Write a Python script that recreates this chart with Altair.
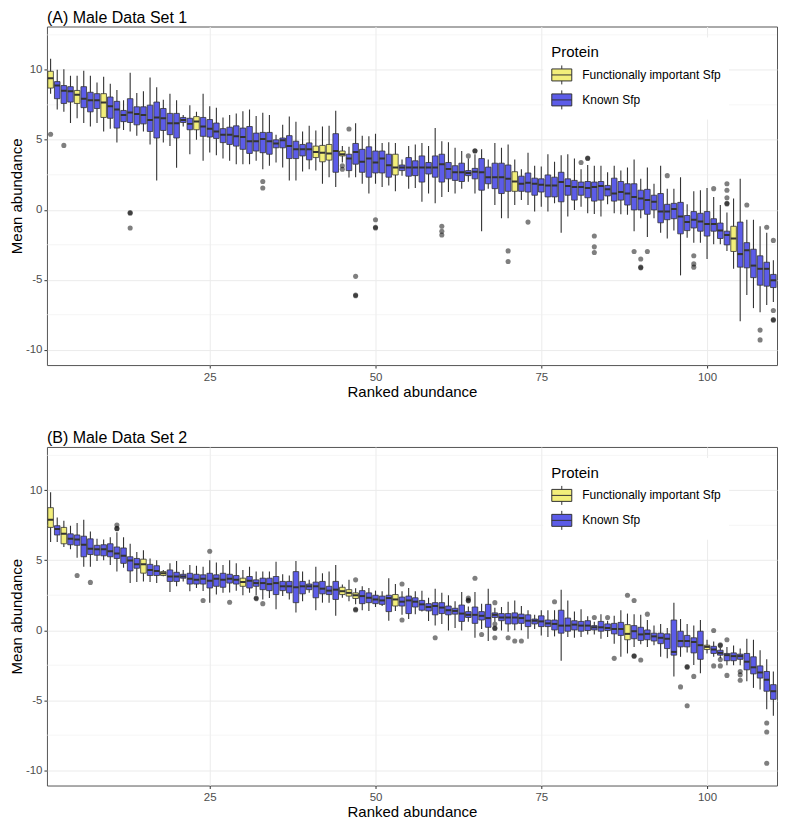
import altair as alt
import pandas as pd

FONT = "Liberation Sans"
YELLOW = "#F2EE7A"
BLUE = "#5C5CE8"
DARK = "#333333"
CATS = ["Functionally important Sfp", "Known Sfp"]
RANKS = list(range(1, 111))
MINOR_Y = [-7.5, -2.5, 2.5, 7.5, 12.5]

# ---------------- Panel A : Male Data Set 1 ----------------
a_lo = [8.3, 7.17, 7.0, 6.2, 6.54, 6.2, 5.96, 6.2, 5.6, 5.8,
        4.8, 5.7, 5.6, 5.3, 5.6, 4.67, 2.1, 4.8, 4.55, 3.0,
        5.96, 3.97, 5.0, 3.5, 4.1, 3.9, 3.66, 3.5, 3.26, 3.26,
        3.26, 3.5, 2.9, 3.15, 3.38, 3.03, 2.1, 2.1, 2.73, 2.9,
        2.8, 1.86, 2.33, 1.63, 3.38, 2.3, 2.33, 1.86, 1.16, 1.86,
        1.63, 1.74, 1.32, 2.44, 1.51, 1.56, 0.57, 1.16, 0.46, 0.92,
        1.27, 1.16, 1.51, 2.0, 1.16, -1.53, 1.51, 0.34, -0.6, -0.6,
        0.34, 0.69, 0.34, -0.13, 0.22, -0.13, 0.46, -1.65, -0.48, -0.01,
        0.22, -0.25, -0.3, -0.48, 0.39, -0.25, -0.32, -0.36, -1.53, -0.6,
        -1.95, -0.6, -1.65, -2.05, -1.49, -4.69, -2.0, -2.35, -2.35, -3.52,
        -2.47, -2.47, -2.94, -4.22, -7.97, -6.09, -7.03, -7.33, -6.8, -6.6]
a_q1 = [8.7, 7.94, 7.6, 7.7, 7.6, 7.3, 7.0, 7.24, 6.6, 6.54,
        5.84, 6.3, 6.24, 6.07, 6.14, 5.6, 5.13, 5.67, 5.37, 5.13,
        6.24, 5.72, 5.72, 5.25, 5.2, 5.1, 4.8, 4.67, 4.55, 4.32,
        4.03, 4.2, 4.08, 3.97, 4.43, 4.43, 3.66, 3.66, 3.85, 3.57,
        3.73, 3.43, 3.55, 2.68, 3.85, 2.8, 3.26, 2.68, 2.33, 2.63,
        2.63, 2.33, 2.49, 2.8, 2.4, 2.44, 1.98, 2.56, 2.33, 1.98,
        2.21, 2.1, 2.02, 2.44, 2.21, 1.4, 1.86, 1.51, 1.16, 1.32,
        1.32, 1.32, 1.27, 1.04, 1.27, 0.92, 0.92, 0.57, 1.04, 0.69,
        1.04, 0.86, 0.62, 0.69, 0.99, 0.62, 0.69, 0.34, -0.01, -0.01,
        -0.32, -0.01, -0.93, -0.71, -0.64, -1.72, -1.49, -1.3, -1.53, -1.88,
        -1.53, -2.05, -2.51, -2.98, -4.1, -4.15, -4.85, -5.39, -5.46, -5.56]
a_med = [9.4, 8.88, 8.5, 8.48, 8.22, 7.94, 7.83, 7.83, 7.66, 7.4,
         7.17, 6.77, 6.96, 6.84, 6.77, 6.42, 6.6, 6.54, 6.19, 6.19,
         6.42, 6.14, 6.31, 5.95, 5.8, 5.6, 5.37, 5.37, 5.25, 5.2,
         4.9, 4.9, 5.06, 4.9, 4.74, 4.97, 4.55, 4.32, 4.32, 4.32,
         4.13, 4.08, 4.03, 4.2, 3.97, 3.66, 4.13, 3.43, 3.66, 3.38,
         3.66, 3.19, 3.03, 3.03, 3.03, 3.03, 3.03, 3.03, 3.03, 3.26,
         2.91, 2.68, 2.68, 2.63, 2.72, 2.68, 2.33, 2.33, 2.33, 2.21,
         2.02, 1.86, 1.93, 1.86, 1.79, 1.74, 1.74, 1.98, 1.7, 1.63,
         1.63, 1.56, 1.63, 1.7, 1.46, 1.16, 1.27, 1.16, 0.92, 0.81,
         0.69, 0.57, -0.13, -0.13, 0.06, -0.48, -0.88, -0.71, -0.83, -1.02,
         -1.02, -1.49, -1.81, -2.05, -3.17, -2.89, -3.99, -4.22, -4.22, -5.04]
a_q3 = [9.9, 9.16, 8.88, 8.8, 8.53, 8.8, 8.4, 8.3, 8.3, 8.06,
        7.75, 7.1, 7.94, 7.36, 7.36, 7.48, 7.7, 7.24, 6.89, 6.89,
        6.6, 6.54, 6.66, 6.6, 6.45, 6.2, 5.8, 5.9, 6.0, 5.84,
        5.95, 5.48, 5.53, 5.53, 5.0, 5.13, 5.3, 4.9, 4.67, 4.78,
        4.55, 4.6, 4.67, 5.44, 4.2, 3.97, 4.74, 4.32, 4.5, 4.2,
        4.2, 3.97, 3.97, 3.2, 3.73, 3.5, 3.85, 3.38, 3.85, 3.97,
        3.38, 3.15, 3.33, 2.8, 2.96, 3.66, 3.05, 3.33, 3.33, 3.2,
        2.72, 2.4, 2.63, 2.26, 2.21, 2.49, 2.33, 2.68, 2.21, 2.1,
        1.98, 2.02, 1.98, 2.02, 1.74, 2.26, 2.02, 1.86, 1.86, 1.4,
        1.46, 1.04, 1.16, 0.39, 0.46, 0.53, -0.41, -0.13, -0.25, -0.13,
        -0.64, -0.95, -1.53, -1.18, -0.88, -2.35, -2.82, -3.29, -3.75, -4.62]
a_hi = [10.8, 10.0, 10.05, 9.58, 9.58, 9.93, 9.58, 9.1, 9.5, 9.0,
        8.57, 7.83, 9.8, 8.34, 8.48, 9.46, 8.76, 7.87, 8.3, 7.83,
        6.77, 7.48, 7.0, 8.3, 7.4, 7.3, 6.6, 6.77, 6.89, 7.05,
        7.17, 6.7, 6.94, 6.77, 5.37, 6.07, 6.66, 6.3, 5.6, 6.0,
        5.67, 5.95, 6.0, 7.07, 4.55, 4.5, 6.19, 5.3, 5.25, 5.44,
        4.78, 4.83, 4.78, 3.6, 4.55, 4.67, 4.78, 4.55, 5.84, 4.9,
        4.83, 4.43, 4.2, 3.66, 3.97, 4.32, 3.6, 4.78, 4.43, 4.67,
        3.6, 2.9, 4.08, 3.15, 3.1, 3.97, 3.43, 3.9, 3.97, 3.66,
        2.9, 3.2, 3.15, 3.15, 2.68, 3.15, 2.8, 3.03, 3.6, 2.21,
        3.03, 1.86, 3.15, 1.51, 1.51, 2.33, 0.39, 1.32, 1.4, 1.56,
        0.92, 0.34, -0.2, 0.81, 2.21, -0.71, -0.71, -1.18, -1.65, -3.6]
a_func = [1, 5, 9, 23, 41, 42, 43, 45, 53, 71, 104]
a_out_rank = [1, 3, 13, 13, 13, 33, 33, 45, 45, 46, 47, 47, 47, 50, 50, 50,
              60, 60, 60, 64, 65, 65, 70, 70, 73, 81, 82, 82, 83, 83, 83,
              89, 90, 90, 90, 91, 94, 98, 98, 98, 101, 103, 103, 103, 103, 103,
              106, 108, 108, 109, 110, 110, 110, 110]
a_out_val = [5.4, 4.6, -0.2, -0.25, -1.3, 2.02, 1.56, 3.15, 2.9, 5.77, -4.76, -6.1, -6.15,
             -0.71, -1.25, -1.3, -1.18, -1.53, -1.8, 3.85, 4.2, 4.22, -2.94, -3.7, -0.88,
             3.38, 3.66, 3.7, -1.88, -2.65, -3.05, -2.98, -3.52, -4.1, -4.15, -2.98, 2.44,
             -3.29, -3.87, -4.1, 1.51, 1.86, 1.4, 0.86, 0.46, 0.42, 0.34, -8.6, -9.3, -1.25,
             -2.19, -7.2, -7.85, -7.9]

# ---------------- Panel B : Male Data Set 2 ----------------
b_lo = [6.3, 6.3, 5.95, 5.78, 5.18, 4.54, 4.54, 4.94, 5.01, 4.66,
        4.19, 4.47, 3.37, 3.44, 3.49, 3.44, 3.37, 3.85, 2.74, 3.14,
        3.49, 2.79, 3.02, 2.8, 1.97, 2.55, 2.67, 2.7, 2.83, 2.5,
        2.67, 2.5, 2.2, 2.3, 1.5, 2.44, 2.2, 1.26, 2.08, 2.67,
        1.43, 1.97, 1.97, 1.03, 2.32, 2.08, 1.85, 1.43, 1.38, 1.66,
        1.73, 0.68, 1.38, 1.1, 0.8, 1.15, 1.33, 0.66, 0.34, 0.45,
        -0.02, 0.16, -0.02, 0.6, -0.54, 0.09, -0.77, 0.6, -0.02, -0.1,
        0.0, 0.0, -0.61, 0.09, -0.37, -0.49, -0.44, -2.18, -0.49, -0.54,
        -0.49, -0.3, -0.3, -0.61, -0.49, -0.96, -1.9, -1.66, -1.19, -1.0,
        -1.19, -1.07, -1.9, -2.01, -3.3, -1.9, -1.6, -2.48, -3.07, -1.66,
        -1.9, -2.0, -2.5, -2.5, -2.5, -3.65, -4.12, -4.24, -5.64, -6.11]
b_q1 = [7.35, 6.81, 6.18, 6.11, 6.07, 5.25, 5.41, 5.36, 5.32, 5.25,
        5.13, 4.78, 4.24, 4.43, 4.08, 3.91, 3.91, 3.91, 3.49, 3.49,
        3.72, 3.3, 3.3, 3.3, 3.02, 3.14, 3.07, 3.37, 3.3, 3.14,
        3.02, 3.14, 2.9, 2.83, 2.55, 2.83, 2.67, 1.97, 2.6, 2.9,
        2.32, 2.6, 2.55, 2.2, 2.55, 2.44, 2.27, 1.9, 1.97, 1.9,
        1.85, 1.33, 1.73, 1.73, 1.19, 1.66, 1.43, 1.38, 1.1, 1.19,
        1.1, 1.15, 0.63, 0.91, 0.49, 0.73, 0.21, 0.91, 0.68, 0.45,
        0.45, 0.49, 0.26, 0.45, 0.26, 0.26, 0.02, -0.21, -0.07, 0.02,
        -0.07, -0.02, 0.02, -0.07, -0.02, -0.26, -0.37, -0.68, -0.61, -0.73,
        -0.68, -0.77, -0.96, -1.31, -1.78, -1.19, -1.19, -1.62, -2.08, -1.38,
        -1.66, -1.78, -2.18, -2.18, -2.08, -2.83, -3.12, -3.42, -4.36, -4.94]
b_med = [7.89, 7.24, 6.89, 6.53, 6.49, 6.11, 5.83, 5.78, 5.78, 5.64,
         5.48, 5.32, 4.99, 4.71, 4.71, 4.31, 4.24, 4.07, 3.84, 3.84,
         3.84, 3.68, 3.6, 3.68, 3.54, 3.68, 3.6, 3.68, 3.6, 3.44,
         3.54, 3.37, 3.37, 3.3, 3.37, 3.14, 3.14, 3.07, 3.14, 3.14,
         3.14, 2.97, 2.83, 2.9, 2.79, 2.67, 2.5, 2.44, 2.32, 2.2,
         2.13, 2.3, 2.2, 2.04, 2.13, 2.04, 1.85, 1.66, 1.73, 1.62,
         1.43, 1.38, 1.19, 1.1, 1.1, 1.03, 0.87, 1.1, 0.91, 0.91,
         0.91, 0.87, 0.68, 0.68, 0.63, 0.49, 0.45, 0.33, 0.33, 0.4,
         0.33, 0.33, 0.21, 0.21, 0.16, 0.09, 0.09, -0.26, -0.07, -0.3,
         -0.26, -0.44, -0.54, -0.61, -1.55, -0.77, -0.77, -0.84, -1.07, -1.19,
         -1.38, -1.62, -1.78, -1.85, -1.85, -2.25, -2.65, -3.02, -3.54, -4.36]
b_q3 = [8.76, 7.47, 7.35, 6.89, 6.81, 6.72, 6.53, 6.07, 6.11, 6.18,
        5.95, 5.88, 5.25, 5.13, 5.08, 4.71, 4.61, 4.19, 4.31, 4.14,
        4.0, 4.07, 4.0, 3.96, 4.07, 3.96, 4.07, 4.0, 3.91, 3.72,
        3.84, 3.6, 3.72, 3.72, 3.84, 3.49, 3.49, 4.19, 3.49, 3.3,
        3.44, 3.49, 3.14, 3.49, 3.07, 2.9, 2.67, 2.83, 2.67, 2.5,
        2.44, 2.5, 2.55, 2.37, 2.44, 2.32, 2.13, 1.9, 1.97, 1.97,
        1.73, 1.57, 1.8, 1.33, 1.66, 1.33, 1.85, 1.24, 1.19, 1.19,
        1.24, 1.15, 1.1, 0.8, 1.03, 0.73, 0.73, 1.43, 0.87, 0.68,
        0.63, 0.68, 0.33, 0.63, 0.45, 0.49, 0.56, 0.4, 0.33, 0.21,
        0.02, -0.21, -0.21, -0.26, 0.73, -0.07, -0.37, -0.54, -0.07, -1.07,
        -1.15, -1.43, -1.66, -1.62, -1.71, -1.66, -1.9, -2.55, -2.95, -3.89]
b_hi = [9.86, 8.06, 7.82, 7.47, 7.66, 7.89, 7.05, 6.53, 6.49, 6.65,
        7.0, 6.65, 6.18, 5.6, 5.71, 5.13, 5.01, 4.31, 4.78, 4.94,
        4.31, 4.66, 4.61, 4.54, 5.0, 4.85, 4.66, 5.01, 4.78, 4.31,
        4.54, 4.19, 4.19, 4.19, 4.9, 4.0, 3.91, 4.94, 4.19, 3.6,
        4.54, 4.07, 4.19, 4.66, 3.26, 3.6, 3.0, 3.14, 3.02, 2.83,
        2.79, 3.72, 3.3, 2.79, 3.02, 2.79, 2.83, 2.32, 2.97, 2.67,
        2.5, 2.08, 2.74, 1.7, 2.74, 1.9, 2.97, 1.6, 1.66, 2.04,
        2.13, 1.73, 1.43, 1.1, 1.43, 1.43, 1.43, 2.9, 2.13, 1.33,
        1.5, 1.0, 0.6, 1.15, 0.68, 1.03, 1.43, 1.19, 1.15, 1.1,
        0.73, 0.33, 0.45, 0.16, 1.97, 0.8, 0.45, 0.33, 0.73, -0.68,
        -0.8, -1.25, -1.2, -1.1, -1.3, -0.61, -0.68, -1.43, -2.08, -2.95]
b_func = [1, 3, 15, 18, 30, 45, 46, 47, 53, 88, 100]
b_out_rank = [5, 7, 11, 11, 11, 24, 25, 28, 32, 32, 33, 47, 47, 47, 54, 54, 59,
              64, 64, 64, 65, 66, 68, 68, 68, 68, 68, 70, 71, 72, 77, 83, 85, 86,
              88, 89, 89, 89, 90, 91, 96, 97, 97, 97, 98, 101, 101, 102, 102, 102, 102,
              103, 103, 105, 105, 105, 109, 109, 109]
b_out_val = [3.91, 3.42, 7.52, 7.28, 7.25, 2.13, 5.64, 2.0, 2.3, 2.25, 1.9, 3.6, 1.5, 1.45,
             3.3, 0.73, -0.54, 2.3, 2.15, 2.1, 3.72, -0.3, 1.97, 0.44, 0.16, 0.12, -0.54,
             -0.54, -0.77, -0.77, 2.04, 0.91, 0.91, -2.01, 2.5, 2.13, -1.83, -1.86, -2.13,
             1.15, -4.05, -2.6, -2.65, -5.4, -3.3, -0.02, -2.55, -1.05, -1.1, -2.1, -2.55,
             -0.68, -3.23, -2.95, -3.19, -3.58, -6.63, -7.28, -9.51]

GLYPH = "M-1,-0.6H1V0.6H-1Z M-1,0H1 M0,-0.6V-0.95 M0,0.6V0.95"
PLOT_W = 731
PLOT_H = 339


def panel(title, lo, q1, med, q3, hi, func, o_rank, o_val):
    df = pd.DataFrame({"rank": RANKS, "lo": lo, "q1": q1, "med": med, "q3": q3, "hi": hi})
    df["Protein"] = [CATS[0] if r in func else CATS[1] for r in RANKS]
    out = pd.DataFrame({"rank": o_rank, "val": o_val})
    minor = pd.DataFrame({"m": MINOR_Y})

    xs = alt.Scale(domain=[0.45, 110.55], nice=False, zero=False)
    ys = alt.Scale(domain=[-11.1, 13.1], nice=False, zero=False)
    xax = alt.Axis(values=[25, 50, 75, 100], title="Ranked abundance", labelExpr="datum.value + ''")
    yax = alt.Axis(values=[-10, -5, 0, 5, 10], title="Mean abundance", labelExpr="datum.value + ''")

    grid_minor = alt.Chart(minor).mark_rule(color="#EFEFEF", strokeWidth=0.6).encode(
        y=alt.Y("m:Q", scale=ys, axis=yax)
    )
    base = alt.Chart(df).transform_calculate(
        xl="datum.rank - 0.42", xr="datum.rank + 0.42"
    )
    whisk = base.mark_rule(color=DARK, strokeWidth=1.1, clip=True).encode(
        x=alt.X("rank:Q", scale=xs, axis=xax),
        y=alt.Y("lo:Q", scale=ys, axis=yax),
        y2="hi:Q",
    )
    box = base.mark_bar(stroke=DARK, strokeWidth=0.8, clip=True, opacity=1).encode(
        x=alt.X("xl:Q", scale=xs, axis=xax),
        x2="xr:Q",
        y=alt.Y("q1:Q", scale=ys, axis=yax),
        y2="q3:Q",
        fill=alt.Fill(
            "Protein:N",
            scale=alt.Scale(domain=CATS, range=[YELLOW, BLUE]),
            legend=alt.Legend(
                title="Protein", orient="none", legendX=497, legendY=11,
                symbolType=GLYPH, symbolSize=400, symbolStrokeColor=DARK,
                symbolStrokeWidth=1, symbolOpacity=1, fillColor="white",
                padding=8, rowPadding=2, titlePadding=4, labelOffset=10,
                titleFont=FONT, titleFontSize=15, titleFontWeight="normal",
                titleColor="black", labelFont=FONT, labelFontSize=12,
                labelColor="black",
            ),
        ),
    )
    mid = base.mark_rule(color=DARK, strokeWidth=2, clip=True).encode(
        x=alt.X("xl:Q", scale=xs, axis=xax),
        x2="xr:Q",
        y=alt.Y("med:Q", scale=ys, axis=yax),
    )
    pts = alt.Chart(out).mark_circle(color="black", opacity=0.5, size=26, clip=True).encode(
        x=alt.X("rank:Q", scale=xs, axis=xax),
        y=alt.Y("val:Q", scale=ys, axis=yax),
    )
    return alt.layer(grid_minor, whisk, box, mid, pts).properties(
        width=PLOT_W, height=PLOT_H,
        title=alt.TitleParams(title, anchor="start", frame="group", fontSize=16,
                              fontWeight="normal", font=FONT, color="black", offset=1),
    )


pA = panel("(A) Male Data Set 1", a_lo, a_q1, a_med, a_q3, a_hi, a_func, a_out_rank, a_out_val)
pB = panel("(B) Male Data Set 2", b_lo, b_q1, b_med, b_q3, b_hi, b_func, b_out_rank, b_out_val)

chart = (
    alt.vconcat(pA, pB, spacing=29, padding=0)
    .resolve_scale(fill="independent")
    .resolve_legend(fill="independent")
    .configure_view(stroke="#555555", strokeWidth=1)
    .configure_axis(
        labelFont=FONT, titleFont=FONT, labelFontSize=11.5, labelColor="#4D4D4D",
        titleFontSize=15, titleFontWeight="normal", titleColor="black",
        tickColor=DARK, tickSize=3, tickWidth=1, domain=False,
        gridColor="#EBEBEB", gridWidth=1,
    )
    .configure_axisX(labelPadding=3, titlePadding=2)
    .configure_axisY(labelPadding=2, titlePadding=1)
)

chart.save("out.html", embed_options={"renderer": "svg", "actions": False})
